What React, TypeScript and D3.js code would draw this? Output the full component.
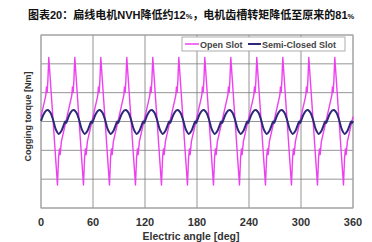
import React from "react";
import * as d3 from "d3";

const titleParts = ["图表20：扁线电机NVH降低约12", "%", "，电机齿槽转矩降低至原来的81", "%"];
const xTicks = [0, 60, 120, 180, 240, 300, 360];
const yGrid = [-3, -2, -1, 0, 1, 2, 3];
const seriesNames = ["Open Slot", "Semi-Closed Slot"];

const openAngle = [
  0, 5.5, 6.3, 7.1, 7.9,
  9, 19, 20.3, 21.3, 22.1, 23.5, 35.5, 36.3, 37.1, 37.9,
  39, 49, 50.3, 51.3, 52.1, 53.5, 65.5, 66.3, 67.1, 67.9,
  69, 79, 80.3, 81.3, 82.1, 83.5, 95.5, 96.3, 97.1, 97.9,
  99, 109, 110.3, 111.3, 112.1, 113.5, 125.5, 126.3, 127.1, 127.9,
  129, 139, 140.3, 141.3, 142.1, 143.5, 155.5, 156.3, 157.1, 157.9,
  159, 169, 170.3, 171.3, 172.1, 173.5, 185.5, 186.3, 187.1, 187.9,
  189, 199, 200.3, 201.3, 202.1, 203.5, 215.5, 216.3, 217.1, 217.9,
  219, 229, 230.3, 231.3, 232.1, 233.5, 245.5, 246.3, 247.1, 247.9,
  249, 259, 260.3, 261.3, 262.1, 263.5, 275.5, 276.3, 277.1, 277.9,
  279, 289, 290.3, 291.3, 292.1, 293.5, 305.5, 306.3, 307.1, 307.9,
  309, 319, 320.3, 321.3, 322.1, 323.5, 335.5, 336.3, 337.1, 337.9,
  339, 349, 350.3, 351.3, 352.1, 353.5, 360,
];
const openTorque = [
  0.17, 0.9, 1.2, 1.0, 1.4,
  2.22, -2.2, -1.25, -0.95, -1.15, -0.7, 0.9, 1.2, 1.0, 1.4,
  2.22, -2.2, -1.25, -0.95, -1.15, -0.7, 0.9, 1.2, 1.0, 1.4,
  2.22, -2.2, -1.25, -0.95, -1.15, -0.7, 0.9, 1.2, 1.0, 1.4,
  2.22, -2.2, -1.25, -0.95, -1.15, -0.7, 0.9, 1.2, 1.0, 1.4,
  2.22, -2.2, -1.25, -0.95, -1.15, -0.7, 0.9, 1.2, 1.0, 1.4,
  2.22, -2.2, -1.25, -0.95, -1.15, -0.7, 0.9, 1.2, 1.0, 1.4,
  2.22, -2.2, -1.25, -0.95, -1.15, -0.7, 0.9, 1.2, 1.0, 1.4,
  2.22, -2.2, -1.25, -0.95, -1.15, -0.7, 0.9, 1.2, 1.0, 1.4,
  2.22, -2.2, -1.25, -0.95, -1.15, -0.7, 0.9, 1.2, 1.0, 1.4,
  2.22, -2.2, -1.25, -0.95, -1.15, -0.7, 0.9, 1.2, 1.0, 1.4,
  2.22, -2.2, -1.25, -0.95, -1.15, -0.7, 0.9, 1.2, 1.0, 1.4,
  2.22, -2.2, -1.25, -0.95, -1.15, -0.7, 0.17,
];

const semiAngle = [
  0, 3, 6,
  8, 11, 14, 17, 20.5, 23.5, 26.5, 28, 29, 30, 33, 36,
  38, 41, 44, 47, 50.5, 53.5, 56.5, 58, 59, 60, 63, 66,
  68, 71, 74, 77, 80.5, 83.5, 86.5, 88, 89, 90, 93, 96,
  98, 101, 104, 107, 110.5, 113.5, 116.5, 118, 119, 120, 123, 126,
  128, 131, 134, 137, 140.5, 143.5, 146.5, 148, 149, 150, 153, 156,
  158, 161, 164, 167, 170.5, 173.5, 176.5, 178, 179, 180, 183, 186,
  188, 191, 194, 197, 200.5, 203.5, 206.5, 208, 209, 210, 213, 216,
  218, 221, 224, 227, 230.5, 233.5, 236.5, 238, 239, 240, 243, 246,
  248, 251, 254, 257, 260.5, 263.5, 266.5, 268, 269, 270, 273, 276,
  278, 281, 284, 287, 290.5, 293.5, 296.5, 298, 299, 300, 303, 306,
  308, 311, 314, 317, 320.5, 323.5, 326.5, 328, 329, 330, 333, 336,
  338, 341, 344, 347, 350.5, 353.5, 356.5, 358, 359, 360,
];
const semiTorque = [
  0.02, 0.25, 0.38,
  0.4, 0.3, 0.05, -0.27, -0.43, -0.33, -0.1, 0.0, -0.05, 0.02, 0.25, 0.38,
  0.4, 0.3, 0.05, -0.27, -0.43, -0.33, -0.1, 0.0, -0.05, 0.02, 0.25, 0.38,
  0.4, 0.3, 0.05, -0.27, -0.43, -0.33, -0.1, 0.0, -0.05, 0.02, 0.25, 0.38,
  0.4, 0.3, 0.05, -0.27, -0.43, -0.33, -0.1, 0.0, -0.05, 0.02, 0.25, 0.38,
  0.4, 0.3, 0.05, -0.27, -0.43, -0.33, -0.1, 0.0, -0.05, 0.02, 0.25, 0.38,
  0.4, 0.3, 0.05, -0.27, -0.43, -0.33, -0.1, 0.0, -0.05, 0.02, 0.25, 0.38,
  0.4, 0.3, 0.05, -0.27, -0.43, -0.33, -0.1, 0.0, -0.05, 0.02, 0.25, 0.38,
  0.4, 0.3, 0.05, -0.27, -0.43, -0.33, -0.1, 0.0, -0.05, 0.02, 0.25, 0.38,
  0.4, 0.3, 0.05, -0.27, -0.43, -0.33, -0.1, 0.0, -0.05, 0.02, 0.25, 0.38,
  0.4, 0.3, 0.05, -0.27, -0.43, -0.33, -0.1, 0.0, -0.05, 0.02, 0.25, 0.38,
  0.4, 0.3, 0.05, -0.27, -0.43, -0.33, -0.1, 0.0, -0.05, 0.02, 0.25, 0.38,
  0.4, 0.3, 0.05, -0.27, -0.43, -0.33, -0.1, 0.0, -0.05, 0.02,
];

const W = 372;
const H = 242;
const M = { left: 41, right: 19, top: 35, bottom: 34 };
const OPEN_COLOR = "#ee3ff0";
const SEMI_COLOR = "#2b2a78";
const FONT = "'Liberation Sans', Arial, 'Noto Sans CJK SC', sans-serif";

export default function App() {
  const x = d3.scaleLinear().domain([0, 360]).range([M.left, W - M.right]);
  const y = d3.scaleLinear().domain([-3, 3]).range([H - M.bottom, M.top]);

  const openData = openAngle.map((a, i) => [a, openTorque[i]] as [number, number]);
  const semiData = semiAngle.map((a, i) => [a, semiTorque[i]] as [number, number]);

  const openLine = d3
    .line<[number, number]>()
    .x((d) => x(d[0]))
    .y((d) => y(d[1]))
    .curve(d3.curveLinear);
  const semiLine = d3
    .line<[number, number]>()
    .x((d) => x(d[0]))
    .y((d) => y(d[1]))
    .curve(d3.curveCatmullRom.alpha(0.5));

  const x0 = x(0);
  const x1 = x(360);
  const yTop = y(3);
  const yBot = y(-3);

  const lgX = 182;
  const lgY = 37;

  return (
    <div style={{ position: "absolute", left: 0, top: 0 }}>
      <svg width={W} height={H} style={{ display: "block", background: "#fff" }}>
        <text x={28} y={19} fontFamily={FONT} fontSize={11} fontWeight="bold" fill="#111">
          {titleParts.map((p, i) => (
            <tspan key={i} fontSize={p === "%" ? 7.5 : 11}>
              {p}
            </tspan>
          ))}
        </text>

        {xTicks.map((t) => (
          <line key={"vx" + t} x1={x(t)} x2={x(t)} y1={yTop} y2={yBot} stroke="#7a7a7a" strokeWidth={0.8} />
        ))}
        {yGrid.map((t) => (
          <line key={"hy" + t} x1={x0} x2={x1} y1={y(t)} y2={y(t)} stroke="#7a7a7a" strokeWidth={0.8} />
        ))}
        <rect x={x0} y={yTop} width={x1 - x0} height={yBot - yTop} fill="none" stroke="#aaa" strokeWidth={1} />

        <path d={openLine(openData) || ""} fill="none" stroke={OPEN_COLOR} strokeWidth={1.4} strokeLinejoin="round" />
        <path d={semiLine(semiData) || ""} fill="none" stroke={SEMI_COLOR} strokeWidth={2} strokeLinejoin="round" />

        <rect x={lgX} y={lgY} width={163} height={14} fill="#fff" stroke="#999" strokeWidth={0.8} />
        <line x1={lgX + 3} x2={lgX + 17} y1={lgY + 7} y2={lgY + 7} stroke={OPEN_COLOR} strokeWidth={1.5} />
        <text x={lgX + 18} y={lgY + 10.5} fontFamily={FONT} fontSize={9} fontWeight="bold" fill="#444">
          {seriesNames[0]}
        </text>
        <line x1={lgX + 66} x2={lgX + 79} y1={lgY + 7} y2={lgY + 7} stroke={SEMI_COLOR} strokeWidth={2} />
        <text x={lgX + 80} y={lgY + 10.5} fontFamily={FONT} fontSize={9} fontWeight="bold" fill="#444">
          {seriesNames[1]}
        </text>

        {xTicks.map((t) => (
          <text key={"tx" + t} x={x(t)} y={225.5} textAnchor="middle" fontFamily={FONT} fontSize={11} fontWeight="bold" fill="#333">
            {t}
          </text>
        ))}
        <text x={191} y={239.5} textAnchor="middle" fontFamily={FONT} fontSize={10.5} fontWeight="bold" fill="#333">
          Electric angle [deg]
        </text>
        <text
          transform={`translate(31, 116.5) rotate(-90)`}
          textAnchor="middle"
          fontFamily={FONT}
          fontSize={9}
          fontWeight="bold"
          fill="#333"
        >
          Cogging torque [Nm]
        </text>
      </svg>
    </div>
  );
}
